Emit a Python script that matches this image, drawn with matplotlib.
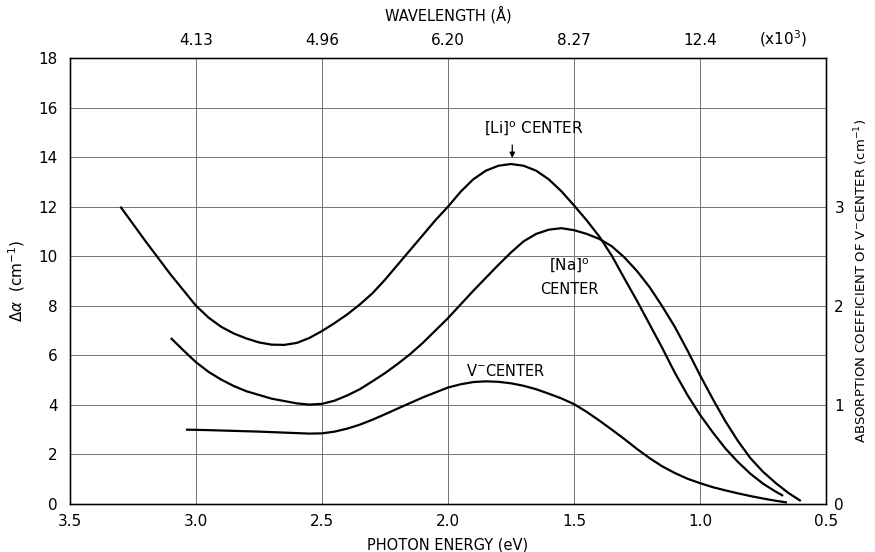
import matplotlib
matplotlib.use("Agg")
import matplotlib.pyplot as plt

# photon energy (eV) vs delta alpha (cm^-1)
li_e = [3.30, 3.20, 3.10, 3.00, 2.95, 2.90, 2.85, 2.80, 2.75, 2.70, 2.65, 2.60,
        2.55, 2.50, 2.45, 2.40, 2.35, 2.30, 2.25, 2.20, 2.15, 2.10, 2.05, 2.00,
        1.95, 1.90, 1.85, 1.80, 1.75, 1.70, 1.65, 1.60, 1.55, 1.50, 1.45, 1.40,
        1.35, 1.30, 1.25, 1.20, 1.15, 1.10, 1.05, 1.00, 0.95, 0.90, 0.85, 0.80,
        0.75, 0.70, 0.67]
li_a = [12.0, 10.6, 9.25, 8.0, 7.52, 7.15, 6.88, 6.68, 6.52, 6.43, 6.42, 6.5,
        6.7, 6.98, 7.3, 7.65, 8.05, 8.5, 9.05, 9.65, 10.25, 10.85, 11.45, 12.0,
        12.6, 13.1, 13.45, 13.65, 13.72, 13.65, 13.45, 13.1, 12.62, 12.05, 11.45, 10.8,
        10.02, 9.1, 8.2, 7.25, 6.3, 5.3, 4.4, 3.6, 2.9, 2.25, 1.7, 1.22,
        0.82, 0.5, 0.33]

na_e = [3.10, 3.05, 3.00, 2.95, 2.90, 2.85, 2.80, 2.70, 2.60, 2.55, 2.50, 2.45,
        2.40, 2.35, 2.30, 2.25, 2.20, 2.15, 2.10, 2.05, 2.00, 1.90, 1.80, 1.75,
        1.70, 1.65, 1.60, 1.55, 1.50, 1.45, 1.40, 1.35, 1.30, 1.25, 1.20, 1.15,
        1.10, 1.05, 1.00, 0.95, 0.90, 0.85, 0.80, 0.75, 0.70, 0.65, 0.60]
na_a = [6.7, 6.2, 5.72, 5.33, 5.02, 4.76, 4.55, 4.25, 4.06, 4.01, 4.04, 4.17,
        4.38, 4.63, 4.95, 5.28, 5.65, 6.05, 6.5, 7.0, 7.5, 8.6, 9.65, 10.15,
        10.6, 10.9, 11.07, 11.13, 11.05, 10.9, 10.7, 10.4, 9.95, 9.4, 8.75, 7.98,
        7.15, 6.2, 5.2, 4.25, 3.35, 2.55, 1.85, 1.3, 0.85, 0.45, 0.12]

v_e = [3.04, 2.95, 2.85, 2.75, 2.65, 2.55, 2.50, 2.45, 2.40, 2.35, 2.30, 2.25,
       2.20, 2.10, 2.00, 1.95, 1.90, 1.85, 1.80, 1.75, 1.70, 1.65, 1.60, 1.55,
       1.50, 1.45, 1.40, 1.35, 1.30, 1.25, 1.20, 1.15, 1.10, 1.05, 1.00, 0.95,
       0.90, 0.85, 0.80, 0.75, 0.70, 0.655]
v_a = [3.0, 2.98, 2.95, 2.92, 2.88, 2.84, 2.85, 2.92, 3.04, 3.2, 3.4, 3.62,
       3.85, 4.3, 4.7, 4.83, 4.92, 4.95, 4.93, 4.87, 4.77, 4.63, 4.45, 4.26,
       4.03, 3.72, 3.37, 3.0, 2.62, 2.22, 1.85, 1.52, 1.25, 1.02, 0.84, 0.68,
       0.55, 0.43, 0.32, 0.22, 0.13, 0.06]

energy_ticks = [3.5, 3.0, 2.5, 2.0, 1.5, 1.0, 0.5]
wave_ticks = [3.0, 2.5, 2.0, 1.5, 1.0]
wave_labels = ["4.13", "4.96", "6.20", "8.27", "12.4"]

fs = 11
fig = plt.figure(figsize=(8.75, 5.52), dpi=100)
ax = fig.add_axes([0.080, 0.087, 0.864, 0.808])

for e, a in [(li_e, li_a), (na_e, na_a), (v_e, v_a)]:
    ax.plot(e, a, color="black", lw=1.6, solid_capstyle="butt",
            solid_joinstyle="round")

ax.set_xlim(3.5, 0.5)
ax.set_ylim(0, 18)
ax.set_xticks(energy_ticks)
ax.set_xticklabels(["%.1f" % t for t in energy_ticks])
ax.set_yticks(range(0, 19, 2))
for t in wave_ticks:
    ax.axvline(t, color="0.45", lw=0.7, zorder=0)
for t in range(2, 18, 2):
    ax.axhline(t, color="0.45", lw=0.7, zorder=0)
ax.tick_params(axis="both", which="both", length=0, labelsize=fs)
ax.tick_params(axis="x", pad=7)
ax.tick_params(axis="y", pad=9)
for s in ax.spines.values():
    s.set_linewidth(1.0)

ax.set_xlabel("PHOTON ENERGY (eV)", fontsize=10.5, labelpad=6)
ax.set_ylabel(r"$\Delta\alpha$  (cm$^{-1}$)", fontsize=11, labelpad=8)

ax2 = ax.twinx()
ax2.set_ylim(0, 4.5)
ax2.set_yticks([0, 1, 2, 3])
ax2.tick_params(axis="y", length=0, labelsize=fs, pad=6)
ax2.set_ylabel(r"ABSORPTION COEFFICIENT OF V$^{-}$CENTER (cm$^{-1}$)",
               fontsize=9.5, labelpad=6)

ax3 = ax.twiny()
ax3.set_xlim(3.5, 0.5)
ax3.set_xticks(wave_ticks)
ax3.set_xticklabels(wave_labels)
ax3.tick_params(axis="x", length=0, labelsize=fs, pad=7)
ax3.set_xlabel("WAVELENGTH (Å)", fontsize=10.5, labelpad=9)
ax3.text(0.67, 18.35, r"(x10$^{3}$)", fontsize=fs, ha="center", va="bottom",
         transform=ax.transData)

# curve labels
ax.text(1.66, 15.15, r"$\left[\mathrm{Li}\right]^{\mathrm{o}}$ CENTER",
        fontsize=11, ha="center", va="center")
ax.annotate("", xy=(1.745, 13.85), xytext=(1.745, 14.6),
            arrowprops=dict(arrowstyle="-|>", color="black", lw=0.9,
                            mutation_scale=8))
ax.text(1.52, 9.6, r"$\left[\mathrm{Na}\right]^{\mathrm{o}}$",
        fontsize=11, ha="center", va="center")
ax.text(1.52, 8.67, "CENTER", fontsize=10.5, ha="center", va="center")
ax.text(1.77, 5.36, r"V$^{-}$CENTER", fontsize=10.5, ha="center", va="center")

fig.savefig("out.png", dpi=100)
